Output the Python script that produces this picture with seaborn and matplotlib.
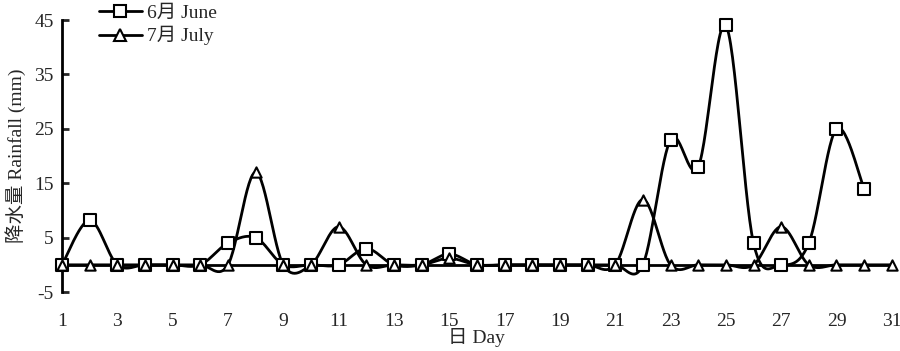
import numpy as np
import pandas as pd
import matplotlib
matplotlib.use("Agg")
import matplotlib.pyplot as plt
import seaborn as sns

days_june = list(range(1, 31))
june = [0, 8.2, 0, 0, 0, 0, 4, 5, 0, 0, 0, 3, 0, 0, 2, 0, 0, 0, 0, 0,
        0, 0, 23, 18, 44, 4, 0, 4, 25, 14]
days_july = list(range(1, 32))
july = [0, 0, 0, 0, 0, 0, 0, 17, 0, 0, 7, 0, 0, 0, 1.2, 0, 0, 0, 0, 0,
        0, 12, 0, 0, 0, 0, 7, 0, 0, 0, 0]
xticks = [1, 3, 5, 7, 9, 11, 13, 15, 17, 19, 21, 23, 25, 27, 29, 31]
yticks = [-5, 5, 15, 25, 35, 45]

sns.set_style("white")
FAM = ['Liberation Serif', 'Noto Sans CJK SC']
plt.rcParams['font.family'] = FAM
plt.rcParams['axes.unicode_minus'] = False
FS = 14


def smooth(x, y, n=30):
    # Excel-like smoothed line (Catmull-Rom Bezier)
    x = np.asarray(x, float); y = np.asarray(y, float)
    px = np.concatenate([[x[0]], x, [x[-1]]])
    py = np.concatenate([[y[0]], y, [y[-1]]])
    X, Y = [], []
    t = np.linspace(0, 1, n)
    for i in range(1, len(px) - 2):
        p0 = np.array([px[i], py[i]]); p3 = np.array([px[i + 1], py[i + 1]])
        c1 = p0 + (np.array([px[i + 1], py[i + 1]]) - np.array([px[i - 1], py[i - 1]])) / 6
        c2 = p3 - (np.array([px[i + 2], py[i + 2]]) - np.array([px[i], py[i]])) / 6
        b = ((1 - t) ** 3)[:, None] * p0 + (3 * (1 - t) ** 2 * t)[:, None] * c1 \
            + (3 * (1 - t) * t ** 2)[:, None] * c2 + (t ** 3)[:, None] * p3
        X.extend(b[:, 0]); Y.extend(b[:, 1])
    return np.array(X), np.array(Y)


fig = plt.figure(figsize=(9, 3.51), dpi=100)
ax = fig.add_axes([0.0689, 0.168, 0.922, 0.775])

LW = 2.0
ax.axhline(0, color='black', lw=LW, zorder=1)

for xs, ys, mk, lab in [(days_june, june, 's', '6月 June'), (days_july, july, '^', '7月 July')]:
    sx, sy = smooth(xs, ys)
    ax.plot(sx, sy, color='black', lw=LW, zorder=2, clip_on=False)
    df = pd.DataFrame({'d': xs, 'v': ys})
    sns.scatterplot(data=df, x='d', y='v', marker=mk, s=70 if mk == 's' else 55,
                    facecolor='white', edgecolor='black', linewidth=1.5,
                    ax=ax, zorder=3, clip_on=False, legend=False)
    ax.plot([], [], color='black', lw=LW, marker=mk, markersize=8,
            markerfacecolor='white', markeredgecolor='black', markeredgewidth=1.5, label=lab)

ax.set_xlim(1, 31)
ax.set_ylim(-5, 45)
ax.set_xticks(xticks)
ax.set_yticks(yticks)
ax.tick_params(axis='x', length=0, labelsize=FS, pad=15)
ax.tick_params(axis='y', direction='in', length=5, width=LW, labelsize=FS, left=True, pad=6)
for s in ['top', 'right', 'bottom']:
    ax.spines[s].set_visible(False)
ax.spines['left'].set_linewidth(LW)
ax.spines['left'].set_color('black')

ax.set_xlabel('日 Day', fontsize=FS, labelpad=-1)
ax.set_ylabel('降水量 Rainfall (mm)', fontsize=FS, labelpad=6)

leg = ax.legend(loc='upper left', bbox_to_anchor=(0.035, 1.085), frameon=False,
                fontsize=FS, handlelength=2.2, handletextpad=0.3, labelspacing=0.2,
                borderaxespad=0)

fig.savefig('out.png', dpi=100)
